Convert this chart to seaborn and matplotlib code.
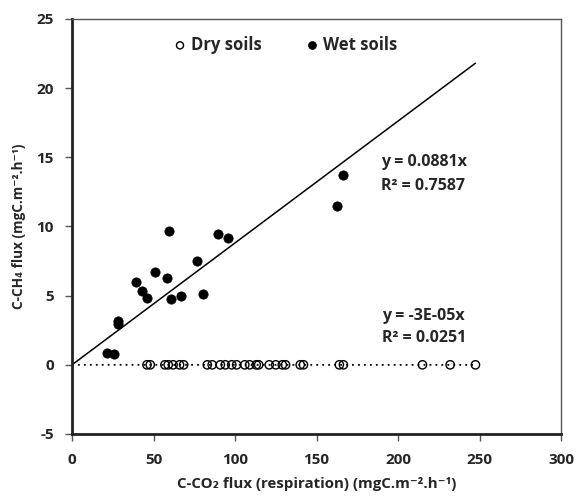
import numpy as np
import pandas as pd
import matplotlib
matplotlib.use("Agg")
import matplotlib.pyplot as plt
import seaborn as sns

# ---- data ----
wet_x = [21.5, 25.8, 28.2, 28.2, 39, 43, 46, 50.7, 58, 60.7, 67, 76.5, 80.6,
         59.7, 89.4, 95.8, 166, 162.7]
wet_y = [0.85, 0.8, 3.2, 2.95, 6.0, 5.3, 4.85, 6.7, 6.25, 4.75, 5.0, 7.5, 5.1,
         9.7, 9.45, 9.2, 13.7, 11.45]
dry_x = [46, 48, 57, 59, 62, 66, 68.5, 83, 86, 91, 94, 98, 101, 106, 109, 113,
         114.5, 121, 125, 129, 131, 140, 142, 164, 166.5, 215, 232, 247.5]
dry_y = [0.0] * len(dry_x)
wet_slope = 0.0881
dry_slope = -3e-05
wet_eq = ["y = 0.0881x", "R² = 0.7587"]
dry_eq = ["y = -3E-05x", "R² = 0.0251"]
x_ticks = [0, 50, 100, 150, 200, 250, 300]
y_ticks = [-5, 0, 5, 10, 15, 20, 25]

sns.set_theme(style="white")
plt.rcParams['font.family'] = ['Open Sans', 'DejaVu Sans']
plt.rcParams['font.weight'] = 'bold'
plt.rcParams['axes.unicode_minus'] = False

TXT = "#262626"
fig = plt.figure(figsize=(5.77, 4.97), dpi=100)
ax = fig.add_axes([0.1248, 0.1268, 0.8475, 0.835])

fit_x = np.array([0.0, max(dry_x)])
ax.plot(fit_x, wet_slope * fit_x, color="black", lw=1.1, zorder=2)
ax.plot(fit_x, dry_slope * fit_x, color="black", lw=1.3, ls=(0, (1, 2.3)), zorder=2)

dry_df = pd.DataFrame({"x": dry_x, "y": dry_y})
wet_df = pd.DataFrame({"x": wet_x, "y": wet_y})
sns.scatterplot(data=dry_df, x="x", y="y", ax=ax, marker="o", s=36,
                facecolor="none", edgecolor="black", linewidth=1.0,
                label="Dry soils", zorder=3)
sns.scatterplot(data=wet_df, x="x", y="y", ax=ax, marker="o", s=45,
                color="black", edgecolor="black", linewidth=0.5,
                label="Wet soils", zorder=3)

ax.set_xlim(0, 300)
ax.set_ylim(-5, 25)
ax.set_xticks(x_ticks)
ax.set_yticks(y_ticks)
ax.tick_params(axis="both", which="both", direction="out", length=5, width=1,
               color="#555555", labelsize=11, labelcolor=TXT,
               bottom=True, left=True)
ax.tick_params(axis="x", pad=9)
ax.tick_params(axis="y", pad=8)
for lbl in ax.get_xticklabels() + ax.get_yticklabels():
    lbl.set_fontweight("bold")

for side in ["left", "bottom"]:
    ax.spines[side].set_color("#222222")
    ax.spines[side].set_linewidth(2.0)
for side in ["top", "right"]:
    ax.spines[side].set_color("#555555")
    ax.spines[side].set_linewidth(1.0)

ax.set_xlabel("C-CO\u2082 flux (respiration) (mgC.m\u207b\u00b2.h\u207b\u00b9)",
              fontsize=10.8, fontweight="bold", color=TXT)
ax.set_ylabel("C-CH\u2084 flux (mgC.m\u207b\u00b2.h\u207b\u00b9)",
              fontsize=9.8, fontweight="bold", color=TXT)
ax.xaxis.set_label_coords(0.5, -0.103)
ax.yaxis.set_label_coords(-0.094, 0.5)

for yv, s in zip([14.65, 12.95], wet_eq):
    ax.text(189.5, yv, s, fontsize=11.5, fontweight="bold", color=TXT,
            va="center", ha="left")
for yv, s in zip([3.55, 1.95], dry_eq):
    ax.text(190, yv, s, fontsize=11.5, fontweight="bold", color=TXT,
            va="center", ha="left")

leg = ax.legend(loc="center", bbox_to_anchor=(0.433, 0.938), ncol=2, frameon=False,
                handletextpad=0.05, columnspacing=2.45, markerscale=0.85,
                handlelength=1.2, prop={"weight": "bold", "size": 12})
for t in leg.get_texts():
    t.set_color(TXT)

fig.savefig("out.png", dpi=100)
